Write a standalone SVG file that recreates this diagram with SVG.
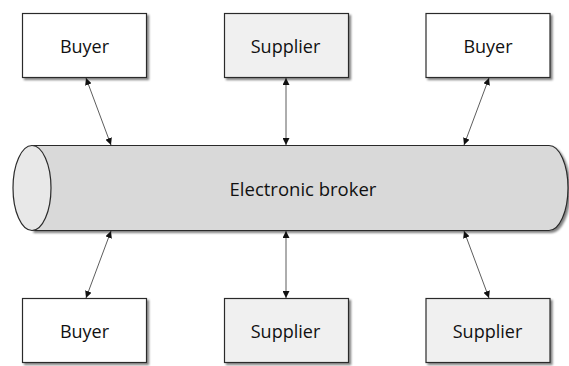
<svg xmlns="http://www.w3.org/2000/svg" width="569" height="366" viewBox="0 0 569 366">
  <defs>
    <filter id="shadow" x="-10%" y="-10%" width="130%" height="140%">
      <feGaussianBlur in="SourceAlpha" stdDeviation="1.2"/>
      <feOffset dx="2" dy="2" result="off"/>
      <feComponentTransfer><feFuncA type="linear" slope="0.5"/></feComponentTransfer>
      <feMerge><feMergeNode/><feMergeNode in="SourceGraphic"/></feMerge>
    </filter>
    <marker id="head" viewBox="0 0 10 10" refX="10" refY="5" markerWidth="7" markerHeight="7" markerUnits="userSpaceOnUse" orient="auto-start-reverse">
      <path d="M0,0 L10,5 L0,10 z" fill="#111"/>
    </marker>
  </defs>
  <style>
    .box { stroke: #2b2b2b; stroke-width: 1.2; filter: url(#shadow); }
    .buyer { fill: #ffffff; }
    .supplier { fill: #f0f0f0; }
    .label { font-family: "Open Sans", "Liberation Sans", sans-serif; font-size: 18px; fill: #111; text-anchor: middle; }
    .link { stroke: #333; stroke-width: 0.8; fill: none; marker-start: url(#head); marker-end: url(#head); }
  </style>

  <!-- broker pipe -->
  <g id="broker">
    <path class="box" d="M32,145.5 L549,145.5 A19,42.5 0 0 1 549,230.5 L32,230.5 Z" fill="#d9d9d9"/>
    <ellipse cx="32" cy="188" rx="19" ry="42.5" fill="#e8e8e8" stroke="#2b2b2b" stroke-width="1.2"/>
    <text class="label" x="303" y="196" style="font-size:18.5px">Electronic broker</text>
  </g>

  <g id="buyer-top-left">
    <rect class="box buyer" x="22.5" y="13.5" width="124" height="64"/>
    <text class="label" x="84.5" y="53">Buyer</text>
  </g>
  <g id="supplier-top">
    <rect class="box supplier" x="224.5" y="13.5" width="124" height="64"/>
    <text class="label" x="285.5" y="53">Supplier</text>
  </g>
  <g id="buyer-top-right">
    <rect class="box buyer" x="426" y="13.5" width="124" height="64"/>
    <text class="label" x="488" y="53">Buyer</text>
  </g>
  <g id="buyer-bottom">
    <rect class="box buyer" x="22.5" y="298.5" width="124" height="64"/>
    <text class="label" x="84.5" y="338">Buyer</text>
  </g>
  <g id="supplier-bottom-middle">
    <rect class="box supplier" x="224.5" y="298.5" width="124" height="64"/>
    <text class="label" x="285.5" y="338">Supplier</text>
  </g>
  <g id="supplier-bottom-right">
    <rect class="box supplier" x="426" y="298.5" width="124" height="64"/>
    <text class="label" x="487.5" y="338">Supplier</text>
  </g>

  <g id="connectors">
    <line class="link" x1="86" y1="78" x2="111" y2="145"/>
    <line class="link" x1="286" y1="78" x2="286" y2="145"/>
    <line class="link" x1="489" y1="78" x2="464" y2="145"/>
    <line class="link" x1="111" y1="231" x2="86" y2="298"/>
    <line class="link" x1="286" y1="231" x2="286" y2="298"/>
    <line class="link" x1="464" y1="231" x2="489" y2="298"/>
  </g>
</svg>
